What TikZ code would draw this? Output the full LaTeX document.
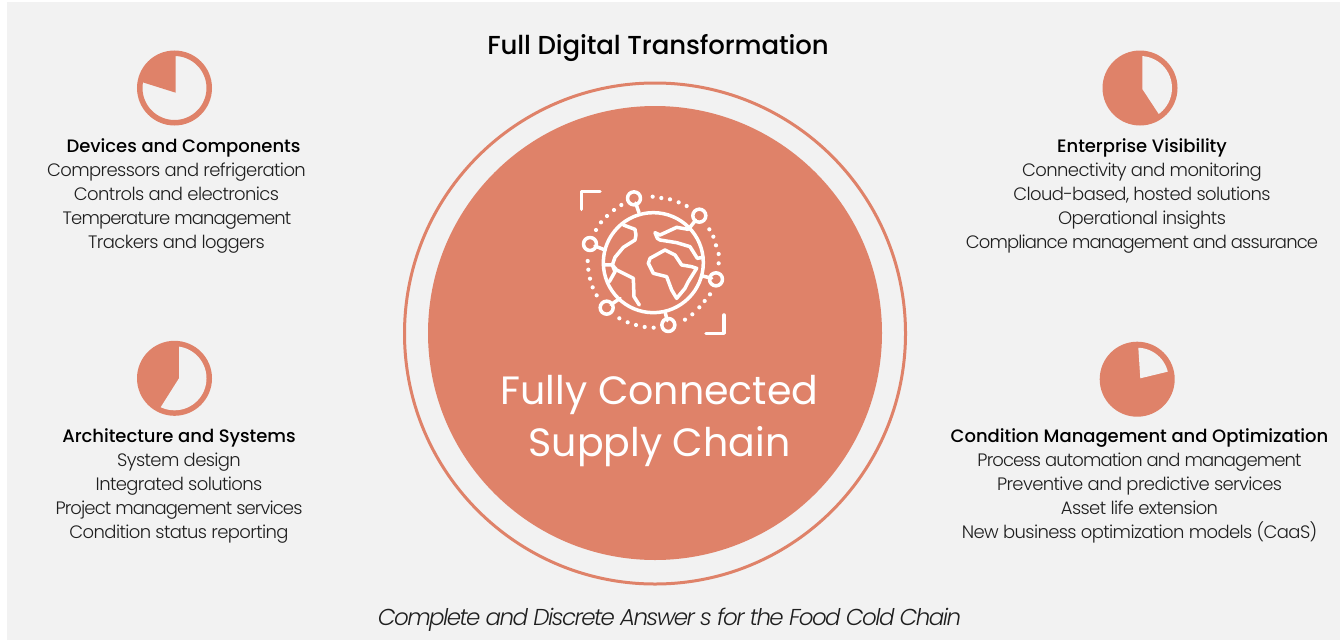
\documentclass[tikz,border=0pt]{standalone}
\usepackage{fontspec}
\setmainfont{Poppins}[UprightFont=* Light]
\newfontfamily\pmed{Poppins}[UprightFont=* Medium,LetterSpace=-0.5]
\newfontfamily\phead{Poppins}[UprightFont=* Medium,LetterSpace=-0.2]
\newfontfamily\pbody{Poppins}[UprightFont=* Light,LetterSpace=-3.4]
\newfontfamily\pbodyt{Poppins}[UprightFont=* Light,LetterSpace=-4.9]
\newfontfamily\preg{Poppins}[LetterSpace=0]
\newfontfamily\pit{Poppins}[UprightFont=* Light Italic,LetterSpace=-6.8]
\definecolor{salmon}{HTML}{DF8269}
\definecolor{pale}{HTML}{F2F2F2}
\tikzset{
  body/.style={anchor=base,inner sep=0pt,text=black!88,font=\pbody\fontsize{18}{20}\selectfont},
  bodyt/.style={anchor=base,inner sep=0pt,text=black!88,font=\pbodyt\fontsize{18}{20}\selectfont},
  head/.style={anchor=base,inner sep=0pt,text=black,font=\phead\fontsize{18}{20}\selectfont},
  centre/.style={anchor=base,inner sep=0pt,text=white,font=\preg\fontsize{39.5}{41}\selectfont},
  ico/.style={draw=white,line width=3.5pt,line join=round,line cap=round},
  icodot/.style={fill=white}
}
\begin{document}
\begin{tikzpicture}[x=1pt,y=-1pt]
\useasboundingbox (0,0) rectangle (1340,640);
\fill[white] (0,0) rectangle (1340,640);
\fill[pale] (7,2) rectangle (1340,640);
% central
\draw[salmon,line width=3pt] (655,333.5) circle (250.5pt);
\fill[salmon] (655,333) circle (227pt);
% pies
\fill[pale] (174.5,88) circle (34pt);
\begin{scope}
\clip (174.5,88) circle (34pt);
\fill[salmon] (175.7,92.7) -- (175.7,45) -- (130,45) -- (130,78.3) -- cycle;
\end{scope}
\draw[salmon,line width=5.5pt] (174.5,88) circle (34.75pt);
\fill[salmon] (1140,88) circle (37.5pt);
\begin{scope}
\clip (1140,88) circle (32pt);
\fill[pale] (1142.3,89) -- (1142.3,50) -- (1185,50) -- (1185,130) -- (1169.3,130) -- cycle;
\end{scope}
\fill[salmon] (174.5,378.3) circle (37.5pt);
\begin{scope}
\clip (174.5,378.3) circle (32pt);
\fill[pale] (179,378.3) -- (179,340) -- (215,340) -- (215,420) -- (152.6,420) -- cycle;
\end{scope}
\fill[salmon] (1137.2,379.2) circle (37.5pt);
\begin{scope}
\clip (1137.2,379.2) circle (31.5pt);
\fill[pale] (1140.3,378.3) -- (1137.8,340) -- (1180,340) -- (1180,368.7) -- cycle;
\end{scope}
% globe icon
\begin{scope}[shift={(560,170)},x=0.3333pt,y=-0.3333pt]
\draw[ico] (280,278) circle (50pt);
\draw[ico] (65,118) -- (65,65) -- (120,65);
\draw[ico] (492,435) -- (492,490) -- (438,490);
\foreach \a/\b/\c/\d in {222/85/237/128,418/137/385/178,90/222/135/240,468/328/428/318,140/413/180/385,325/465/315/425}{
  \draw[ico,fill=salmon] (\a,\b) circle (6.5pt);
  \path (\a,\b) -- (\c,\d) coordinate[pos=0.33] (st);
  \draw[ico] (st) -- (\c,\d);
}
\foreach \a/\b in {278/80,304/84,330/88,356/97,380/108,448/178,460/200,468/226,476/252,476/280,450/373,434/393,418/412,397/433,375/449,178/445,203/457,228/465,254/471,281/473,83/273,85/299,90/326,98/352,110/376,108/180,123/157,141/138,162/120,184/105}{
  \fill[icodot] (\a,\b) circle (2.1pt);
}
\draw[ico] (190,165) -- (225,178) -- (228,195) -- (225,210) -- (190,232) -- (165,262) -- (157,285) -- (135,285);
\draw[ico] (157,285) -- (170,300) -- (220,325) -- (222,380) -- (238,405);
\draw[ico] (157,285) -- (165,305) -- (148,335);
\draw[ico] (270,265) -- (315,240) -- (345,255) -- (365,285) -- (395,290) -- (410,295) -- (385,335) -- (375,355) -- (350,385) -- (335,360) -- (320,320) -- (280,310) -- (265,280) -- cycle;
\draw[ico] (430,262) -- (412,265) -- (390,230) -- (350,218) -- (300,210) -- (292,205) -- (285,188) -- (300,195) -- (350,172) -- (385,178);
\end{scope}
% headings
\node[anchor=base,inner sep=0pt,text=black,font=\pmed\fontsize{26}{28}\selectfont] (top) at (658,54) {Full Digital Transformation};
\node[centre] (c1) at (659.5,404) {Fully Connected};
\node[centre] (c2) at (659.5,456) {Supply Chain};
\node[anchor=base,inner sep=0pt,text=black!88,font=\pit\fontsize{23}{25}\selectfont] (bot) at (669.5,625) {Complete and Discrete Answer s for the Food Cold Chain};
% top left
\node[head] (a0) at (183.5,152) {Devices and Components};
\node[body] (a1) at (176.5,176) {Compressors and refrigeration};
\node[body] (a2) at (176.5,200) {Controls and electronics};
\node[bodyt] (a3) at (177,224) {Temperature management};
\node[body] (a4) at (176.5,248) {Trackers and loggers};
% bottom left
\node[head] (b0) at (179,442) {Architecture and Systems};
\node[body] (b1) at (179,466) {System design};
\node[body] (b2) at (179,490) {Integrated solutions};
\node[bodyt] (b3) at (179,514) {Project management services};
\node[body] (b4) at (179,538) {Condition status reporting};
% top right
\node[head] (d0) at (1142,152) {Enterprise Visibility};
\node[body] (d1) at (1142,176) {Connectivity and monitoring};
\node[body] (d2) at (1142,200) {Cloud-based, hosted solutions};
\node[body] (d3) at (1142,224) {Operational insights};
\node[bodyt] (d4) at (1142,248) {Compliance management and assurance};
% bottom right
\node[head] (e0) at (1139.5,442) {Condition Management and Optimization};
\node[bodyt] (e1) at (1139.5,466) {Process automation and management};
\node[body] (e2) at (1139.5,490) {Preventive and predictive services};
\node[body] (e3) at (1139.5,514) {Asset life extension};
\node[body] (e4) at (1139.5,538) {New business optimization models (CaaS)};
\end{tikzpicture}
\end{document}
